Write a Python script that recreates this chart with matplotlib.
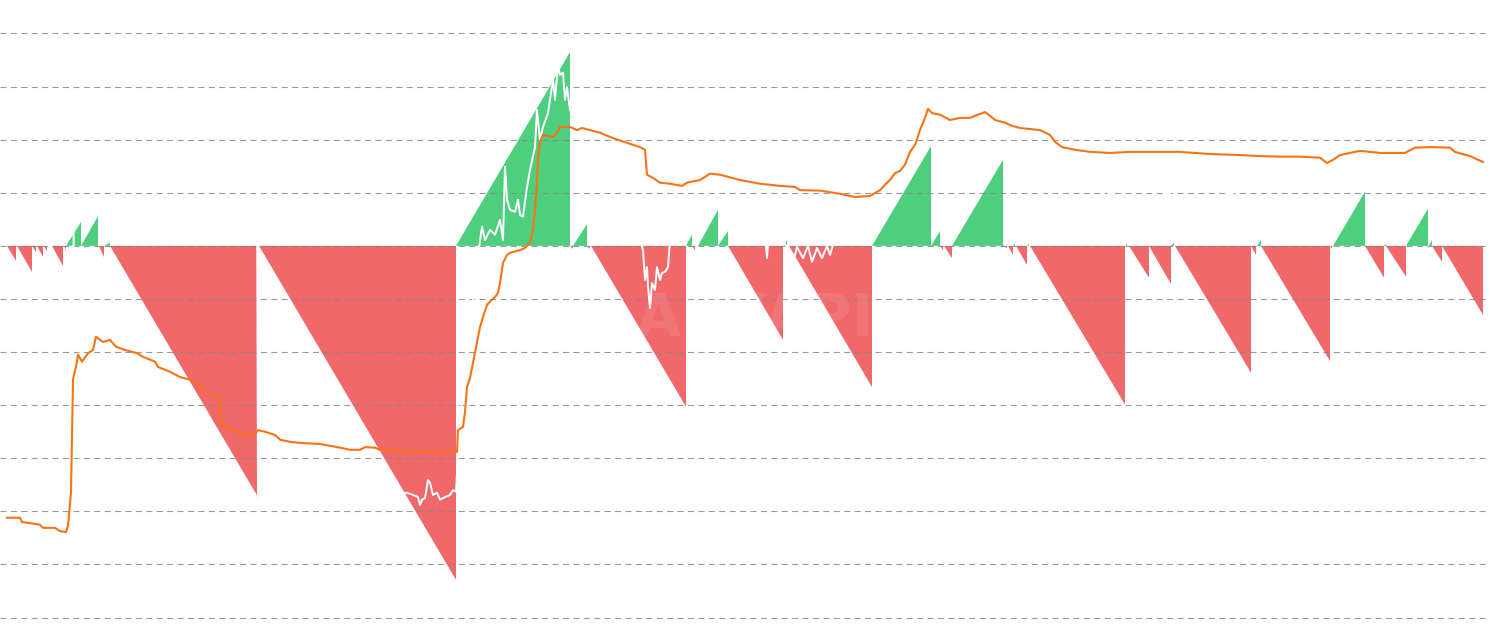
import numpy as np
import matplotlib.pyplot as plt

plt.rcParams['lines.scale_dashes'] = False

# streak segments: bar where the run starts, bar where it ends, value reached at the end
seg_start = [7, 17, 32, 37, 44, 52, 64, 66, 81, 99, 104, 110, 259, 456, 570, 573, 587,
             591, 686, 692, 698, 718, 728, 784, 789, 872, 931, 940, 944, 952, 1003, 1004,
             1008, 1013, 1016, 1027, 1030, 1125, 1129, 1149, 1171, 1175, 1251, 1257, 1261,
             1330, 1333, 1365, 1384, 1386, 1406, 1428, 1429, 1432, 1442]
seg_end = [16, 32, 36, 43, 47, 63, 66, 81, 98, 104, 110, 258, 456, 570, 573, 587, 590,
           686, 692, 695, 718, 728, 783, 787, 872, 931, 940, 943, 952, 1003, 1004, 1007,
           1013, 1015, 1027, 1029, 1125, 1127, 1149, 1171, 1174, 1251, 1256, 1261, 1330,
           1332, 1365, 1384, 1386, 1406, 1428, 1429, 1432, 1442, 1483]
seg_peak = [-0.28, -0.49, -0.11, -0.21, -0.11, -0.38, -0.08, 0.45, 0.56, -0.21, 0.06, -4.73,
            -6.29, 3.65, -0.06, 0.41, -0.06, -3.03, 0.21, -0.08, 0.68, 0.28, -1.77, 0.11,
            -2.66, 1.88, 0.28, -0.08, -0.23, 1.62, 0.04, -0.05, -0.17, 0.04, -0.36, 0.04,
            -2.99, 0.04, -0.60, -0.72, 0.06, -2.39, -0.17, 0.11, -2.17, -0.06, 1.02, -0.60,
            0.04, -0.58, 0.70, -0.04, 0.11, -0.30, -1.30]

# orange line
orange_x = [7, 20, 22, 40, 43, 55, 60, 66, 68, 71, 73, 75, 76, 78, 82, 88, 93, 96, 103, 110,
            116, 125, 137, 143, 155, 158, 170, 180, 190, 198, 205, 212, 220, 221, 230, 240,
            248, 255, 258, 265, 275, 280, 290, 300, 320, 340, 350, 360, 365, 375, 380, 400,
            420, 430, 440, 455, 457, 458, 463, 465, 467, 470, 480, 483, 487, 490, 495, 498,
            500, 503, 507, 510, 520, 525, 530, 533, 535, 537, 538, 540, 543, 547, 553, 557,
            560, 570, 577, 582, 590, 600, 613, 627, 640, 645, 647, 653, 660, 670, 682, 687,
            700, 710, 720, 740, 760, 780, 795, 800, 820, 840, 855, 870, 880, 885, 890, 895,
            900, 905, 910, 915, 920, 925, 928, 932, 940, 950, 960, 970, 978, 985, 990, 995,
            1005, 1012, 1020, 1030, 1040, 1050, 1055, 1062, 1075, 1090, 1110, 1130, 1160,
            1180, 1210, 1240, 1260, 1280, 1300, 1320, 1327, 1333, 1340, 1360, 1380, 1405,
            1415, 1430, 1450, 1455, 1470, 1483]
orange_y = [-5.12, -5.12, -5.20, -5.25, -5.31, -5.31, -5.37, -5.39, -5.27, -4.65, -2.52, -2.34,
            -2.28, -2.05, -2.18, -2.02, -1.96, -1.71, -1.81, -1.77, -1.90, -1.96, -2.02, -2.09,
            -2.18, -2.28, -2.37, -2.47, -2.52, -2.60, -2.75, -2.82, -2.84, -3.37, -3.45, -3.52,
            -3.58, -3.54, -3.47, -3.50, -3.56, -3.65, -3.69, -3.71, -3.73, -3.80, -3.84, -3.84,
            -3.79, -3.80, -3.84, -3.86, -3.88, -3.86, -3.88, -3.88, -3.88, -3.47, -3.41, -3.13,
            -2.66, -2.49, -1.53, -1.34, -1.11, -1.05, -0.96, -0.89, -0.70, -0.32, -0.17, -0.13,
            -0.08, -0.04, 0.06, 0.30, 0.68, 1.19, 1.68, 1.96, 2.09, 2.07, 2.05, 2.13, 2.24, 2.24,
            2.18, 2.22, 2.18, 2.13, 2.03, 1.94, 1.86, 1.81, 1.34, 1.28, 1.19, 1.17, 1.13, 1.19,
            1.24, 1.36, 1.34, 1.24, 1.17, 1.13, 1.11, 1.05, 1.04, 0.98, 0.92, 0.94, 1.05, 1.15,
            1.24, 1.37, 1.41, 1.53, 1.77, 1.90, 2.18, 2.41, 2.58, 2.50, 2.47, 2.37, 2.41, 2.41,
            2.47, 2.52, 2.45, 2.37, 2.32, 2.26, 2.22, 2.20, 2.18, 2.09, 1.96, 1.86, 1.81, 1.77,
            1.75, 1.77, 1.77, 1.77, 1.73, 1.71, 1.69, 1.68, 1.68, 1.66, 1.56, 1.62, 1.71, 1.79,
            1.75, 1.75, 1.85, 1.86, 1.85, 1.77, 1.69, 1.58]

# white (price) line, mostly hidden on the white background
white_x = [7, 40, 72, 74, 100, 150, 200, 257, 258, 270, 280, 300, 350, 400, 407, 413, 418,
           420, 422, 425, 428, 430, 433, 437, 440, 445, 450, 453, 456, 460, 470, 478, 482,
           485, 490, 495, 500, 503, 505, 507, 510, 515, 518, 520, 523, 527, 530, 535, 537,
           540, 543, 548, 553, 555, 558, 560, 563, 565, 567, 570, 593, 610, 630, 640, 643,
           645, 647, 648, 650, 652, 655, 657, 660, 662, 665, 668, 670, 680, 690, 700, 728,
           740, 760, 765, 767, 769, 780, 788, 793, 797, 803, 808, 812, 817, 822, 827, 830,
           836, 850, 870, 903, 918, 933, 960, 1003, 1020, 1040, 1060, 1080, 1100, 1110,
           1125, 1145, 1167, 1190, 1210, 1233, 1260, 1300, 1320, 1333, 1345, 1380, 1410,
           1428, 1450, 1483]
white_y = [-5.25, -5.31, -5.35, 1.30, 1.40, 1.45, 1.50, 1.40, -4.69, -4.99, -4.88, -4.78,
           -4.69, -4.65, -4.65, -4.69, -4.73, -4.88, -4.78, -4.75, -4.41, -4.46, -4.69, -4.65,
           -4.78, -4.73, -4.69, -4.60, -4.63, -3.28, -1.58, -0.17, 0.36, 0.11, 0.30, 0.21,
           0.49, 0.11, 1.49, 0.87, 0.68, 0.64, 0.87, 0.58, 0.55, 1.11, 1.43, 1.86, 2.56, 2.00,
           2.24, 2.50, 3.13, 2.75, 3.41, 3.22, 3.26, 2.75, 2.99, 2.56, 2.00, 1.43, 0.68, 0.11,
           -0.08, -0.64, -0.40, -0.77, -1.17, -0.70, -0.83, -0.40, -0.64, -0.51, -0.49, -0.40,
           0.11, 0.26, 0.40, 0.77, 0.77, 0.45, 0.34, 0.21, -0.23, 0.26, 0.15, -0.04, -0.32,
           -0.02, -0.23, 0.00, -0.30, -0.04, -0.23, 0.00, -0.17, 0.21, 1.81, 2.56, 2.99, 3.22,
           2.99, 2.37, 1.81, 1.43, 1.00, 0.80, 0.76, 0.84, 1.00, 1.25, 1.30, 1.00, 0.80, 0.80,
           1.00, 1.25, 1.30, 1.00, 2.00, 2.45, 2.52, 2.45, 2.00, 1.43, 1.24]

grid_levels = [4, 3, 2, 1, 0, -1, -2, -3, -4, -5, -6, -7]

GREEN = '#4ecf7e'
RED = '#f0686a'
ORANGE = '#f97316'

fig = plt.figure(figsize=(14.9, 6.33), dpi=100)
ax = fig.add_axes([0, 0, 1, 1])
ax.set_xlim(0, 1490)
ax.set_ylim(-7.29, 4.63)
ax.axis('off')

for s, e, p in zip(seg_start, seg_end, seg_peak):
    ax.fill([s, e, e], [0, p, 0], color=GREEN if p > 0 else RED, lw=0, zorder=1)

for g in grid_levels:
    ax.plot([0, 1486], [g, g], color='#888888', alpha=0.85, lw=0.8,
            linestyle=(0, (4.3, 3.2)), zorder=2)

# faint watermark
ax.text(755, -1.38, 'AIWAPI', color='white', alpha=0.09, fontsize=42,
        fontweight='bold', ha='center', va='center', zorder=2.5)

ax.plot(white_x, white_y, color='white', lw=1.4, zorder=3)
ax.plot(orange_x, orange_y, color=ORANGE, lw=1.5, zorder=4)

fig.savefig('out.png', dpi=100)
